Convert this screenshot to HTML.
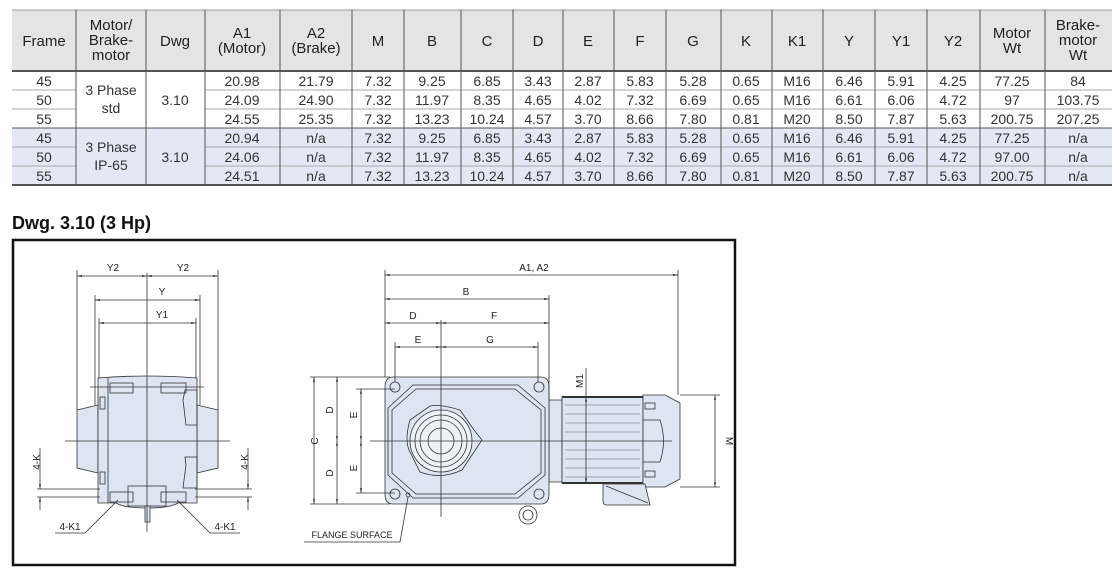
<!DOCTYPE html>
<html><head><meta charset="utf-8"><style>
body{margin:0;width:1120px;height:575px;background:#fff;font-family:"Liberation Sans",sans-serif;position:relative;overflow:hidden}
svg{position:absolute;left:0;top:0}
</style></head><body>
<svg width="1120" height="575" viewBox="0 0 1120 575" font-family="Liberation Sans, sans-serif">
<rect x="12" y="10" width="1100" height="61" fill="#e4e4e4"/>
<rect x="12" y="128" width="1100" height="57" fill="#e3e9f4"/>
<g stroke="#777" stroke-width="1">
<line x1="12" y1="10" x2="1112" y2="10" stroke="#999"/>
<line x1="12" y1="71" x2="1112" y2="71" stroke="#555" stroke-width="2"/>
<line x1="12" y1="185" x2="1112" y2="185" stroke="#555" stroke-width="2"/>
<line x1="12" y1="128" x2="1112" y2="128" stroke="#555"/>
<g stroke="#aaa">
<line x1="12" y1="90" x2="76" y2="90"/><line x1="205" y1="90" x2="1112" y2="90"/>
<line x1="12" y1="109" x2="76" y2="109"/><line x1="205" y1="109" x2="1112" y2="109"/>
<line x1="12" y1="147" x2="76" y2="147"/><line x1="205" y1="147" x2="1112" y2="147"/>
<line x1="12" y1="166" x2="76" y2="166"/><line x1="205" y1="166" x2="1112" y2="166"/>
</g>
<g stroke="#555">
<line x1="76" y1="10" x2="76" y2="185"/><line x1="146" y1="10" x2="146" y2="185"/><line x1="205" y1="10" x2="205" y2="185"/>
<line x1="280" y1="10" x2="280" y2="185"/><line x1="352" y1="10" x2="352" y2="185"/><line x1="404" y1="10" x2="404" y2="185"/>
<line x1="461" y1="10" x2="461" y2="185"/><line x1="513" y1="10" x2="513" y2="185"/><line x1="563" y1="10" x2="563" y2="185"/>
<line x1="614" y1="10" x2="614" y2="185"/><line x1="666" y1="10" x2="666" y2="185"/><line x1="721" y1="10" x2="721" y2="185"/>
<line x1="772" y1="10" x2="772" y2="185"/><line x1="823" y1="10" x2="823" y2="185"/><line x1="875" y1="10" x2="875" y2="185"/>
<line x1="927" y1="10" x2="927" y2="185"/><line x1="980" y1="10" x2="980" y2="185"/><line x1="1045" y1="10" x2="1045" y2="185"/>
</g></g>
<g font-size="15" fill="#222" text-anchor="middle">
<text x="44" y="46">Frame</text>
<text x="111" y="30">Motor/</text><text x="111" y="45">Brake-</text><text x="111" y="60">motor</text>
<text x="175" y="46">Dwg</text>
<text x="242" y="38">A1</text><text x="242" y="53">(Motor)</text>
<text x="316" y="38">A2</text><text x="316" y="53">(Brake)</text>
<text x="378" y="46">M</text><text x="432" y="46">B</text><text x="487" y="46">C</text><text x="538" y="46">D</text>
<text x="588" y="46">E</text><text x="640" y="46">F</text><text x="693" y="46">G</text><text x="746" y="46">K</text>
<text x="797" y="46">K1</text><text x="849" y="46">Y</text><text x="901" y="46">Y1</text><text x="953" y="46">Y2</text>
<text x="1012" y="38">Motor</text><text x="1012" y="53">Wt</text>
<text x="1078" y="30">Brake-</text><text x="1078" y="45">motor</text><text x="1078" y="60">Wt</text>
</g>
<g font-size="14" fill="#333" text-anchor="middle">
<text x="44" y="86">45</text><text x="44" y="105">50</text><text x="44" y="124">55</text>
<text x="44" y="143">45</text><text x="44" y="162">50</text><text x="44" y="181">55</text>
<text x="111" y="95">3 Phase</text><text x="111" y="113">std</text>
<text x="111" y="152">3 Phase</text><text x="111" y="170">IP-65</text>
<text x="175" y="105">3.10</text><text x="175" y="162">3.10</text>
</g>
<g font-size="14" fill="#333" text-anchor="middle">
<g transform="translate(0,86)"><text x="242">20.98</text><text x="316">21.79</text><text x="378">7.32</text><text x="432">9.25</text><text x="487">6.85</text><text x="538">3.43</text><text x="588">2.87</text><text x="640">5.83</text><text x="693">5.28</text><text x="746">0.65</text><text x="797">M16</text><text x="849">6.46</text><text x="901">5.91</text><text x="953">4.25</text><text x="1012">77.25</text><text x="1078">84</text></g>
<g transform="translate(0,105)"><text x="242">24.09</text><text x="316">24.90</text><text x="378">7.32</text><text x="432">11.97</text><text x="487">8.35</text><text x="538">4.65</text><text x="588">4.02</text><text x="640">7.32</text><text x="693">6.69</text><text x="746">0.65</text><text x="797">M16</text><text x="849">6.61</text><text x="901">6.06</text><text x="953">4.72</text><text x="1012">97</text><text x="1078">103.75</text></g>
<g transform="translate(0,124)"><text x="242">24.55</text><text x="316">25.35</text><text x="378">7.32</text><text x="432">13.23</text><text x="487">10.24</text><text x="538">4.57</text><text x="588">3.70</text><text x="640">8.66</text><text x="693">7.80</text><text x="746">0.81</text><text x="797">M20</text><text x="849">8.50</text><text x="901">7.87</text><text x="953">5.63</text><text x="1012">200.75</text><text x="1078">207.25</text></g>
<g transform="translate(0,143)"><text x="242">20.94</text><text x="316">n/a</text><text x="378">7.32</text><text x="432">9.25</text><text x="487">6.85</text><text x="538">3.43</text><text x="588">2.87</text><text x="640">5.83</text><text x="693">5.28</text><text x="746">0.65</text><text x="797">M16</text><text x="849">6.46</text><text x="901">5.91</text><text x="953">4.25</text><text x="1012">77.25</text><text x="1078">n/a</text></g>
<g transform="translate(0,162)"><text x="242">24.06</text><text x="316">n/a</text><text x="378">7.32</text><text x="432">11.97</text><text x="487">8.35</text><text x="538">4.65</text><text x="588">4.02</text><text x="640">7.32</text><text x="693">6.69</text><text x="746">0.65</text><text x="797">M16</text><text x="849">6.61</text><text x="901">6.06</text><text x="953">4.72</text><text x="1012">97.00</text><text x="1078">n/a</text></g>
<g transform="translate(0,181)"><text x="242">24.51</text><text x="316">n/a</text><text x="378">7.32</text><text x="432">13.23</text><text x="487">10.24</text><text x="538">4.57</text><text x="588">3.70</text><text x="640">8.66</text><text x="693">7.80</text><text x="746">0.81</text><text x="797">M20</text><text x="849">8.50</text><text x="901">7.87</text><text x="953">5.63</text><text x="1012">200.75</text><text x="1078">n/a</text></g>
</g>
<text x="12" y="229" font-size="18" font-weight="bold" fill="#111">Dwg. 3.10 (3 Hp)</text>
<rect x="13" y="240" width="722" height="325" fill="none" stroke="#111" stroke-width="2.5"/>

<defs><marker id="a" viewBox="0 0 10 10" refX="10" refY="5" markerWidth="6" markerHeight="6" orient="auto-start-reverse"><path d="M0,3 L10,5 L0,7z" fill="#222"/></marker></defs>

<g stroke="#333" stroke-width="0.8" fill="none">
<path d="M77,410 L98,405 L98,473 L77,468z M218,410 L197,405 L197,473 L218,468z" fill="#dde5f2"/>
<path d="M98,378 Q147,374 197,378 L197,503 L178,503 Q170,508 147,508 Q124,508 116,503 L98,503z" fill="#dde5f2"/>
<line x1="108" y1="378" x2="108" y2="503"/>
<path d="M185,390 L197,390 L197,425 L186,425 L183,400z M185,457 L197,457 L197,488 L183,488 L186,465z"/>
<rect x="100" y="397" width="5" height="12"/><rect x="100" y="472" width="5" height="12"/>
<rect x="110" y="383" width="23" height="10"/><rect x="161" y="383" width="25" height="10"/>
<rect x="110" y="492" width="23" height="10"/><rect x="161" y="492" width="25" height="10"/>
<rect x="128" y="486" width="38" height="20"/>
<rect x="145" y="506" width="5" height="16" fill="#dde5f2"/>
<line x1="147" y1="273" x2="147" y2="532"/>
<line x1="65" y1="441" x2="230" y2="441"/>
<line x1="90" y1="387" x2="204" y2="387"/>
<line x1="77" y1="270" x2="77" y2="410"/><line x1="218" y1="270" x2="218" y2="410"/>
<line x1="95" y1="295" x2="95" y2="405"/><line x1="200" y1="295" x2="200" y2="405"/>
<line x1="99" y1="318" x2="99" y2="378"/><line x1="196" y1="318" x2="196" y2="378"/>
<line x1="77" y1="276" x2="147" y2="276" marker-start="url(#a)" marker-end="url(#a)"/>
<line x1="147" y1="276" x2="218" y2="276" marker-start="url(#a)" marker-end="url(#a)"/>
<line x1="95" y1="300" x2="200" y2="300" marker-start="url(#a)" marker-end="url(#a)"/>
<line x1="99" y1="323" x2="196" y2="323" marker-start="url(#a)" marker-end="url(#a)"/>
<line x1="37" y1="489" x2="100" y2="489"/><line x1="37" y1="497" x2="100" y2="497"/>
<line x1="195" y1="489" x2="252" y2="489"/><line x1="195" y1="497" x2="252" y2="497"/>
<line x1="40" y1="448" x2="40" y2="489" marker-end="url(#a)"/><line x1="40" y1="510" x2="40" y2="497" marker-end="url(#a)"/>
<line x1="248" y1="448" x2="248" y2="489" marker-end="url(#a)"/><line x1="248" y1="510" x2="248" y2="497" marker-end="url(#a)"/>
<polyline points="55,533 85,533 118,500"/><polyline points="240,533 210,533 177,500"/>
</g>
<g font-size="10" fill="#222" text-anchor="middle">
<text x="113" y="271">Y2</text><text x="183" y="271">Y2</text><text x="162" y="295">Y</text><text x="162" y="318">Y1</text>
<text x="70" y="530">4-K1</text><text x="225" y="530">4-K1</text>
<text transform="translate(40,462) rotate(-90)">4-K</text>
<text transform="translate(248,462) rotate(-90)">4-K</text>
</g>

<g stroke="#333" stroke-width="0.8" fill="none">
<path d="M549,400 L562,400 L562,482 L549,482z" fill="#dde5f2"/>
<path d="M393,377 L541,377 Q549,377 549,387 L549,494 Q549,504 541,504 L393,504 Q385,504 385,494 L385,387 Q385,377 393,377z" fill="#dde5f2"/>
<path d="M413,385 L518,385 L545,408 L545,475 L518,498 L413,498 L388,475 L388,408z"/>
<path d="M416,389 L515,389 L541,410 L541,473 L515,494 L416,494 L392,473 L392,410z"/>
<path d="M430,406 Q441,404 460,410 L474,430 L482,440 L474,452 L462,470 Q441,480 420,472 L410,452 Q404,441 410,420z"/>
<circle cx="441" cy="441" r="31" fill="#eef2f8"/><circle cx="441" cy="441" r="26"/><circle cx="441" cy="441" r="21"/><circle cx="441" cy="441" r="13"/>
<circle cx="395" cy="387" r="5"/><circle cx="539" cy="387" r="5"/><circle cx="395" cy="494" r="5"/><circle cx="539" cy="494" r="5"/>
<circle cx="528" cy="515" r="9"/><circle cx="528" cy="515" r="5"/>
<rect x="562" y="397" width="81" height="86" fill="#dde5f2"/>
<g stroke="#666" stroke-width="0.6"><line x1="565" y1="405" x2="640" y2="405"/><line x1="565" y1="414" x2="640" y2="414"/><line x1="565" y1="423" x2="640" y2="423"/><line x1="565" y1="432" x2="640" y2="432"/><line x1="565" y1="450" x2="640" y2="450"/><line x1="565" y1="459" x2="640" y2="459"/><line x1="565" y1="468" x2="640" y2="468"/><line x1="565" y1="477" x2="640" y2="477"/></g>
<line x1="562" y1="397" x2="643" y2="397" stroke-width="2"/><line x1="562" y1="483" x2="643" y2="483" stroke-width="2"/>
<path d="M643,395 L665,395 L680,403 L680,479 L665,487 L643,487z" fill="#dde5f2"/>
<path d="M643,420 L660,420 Q667,441 660,462 L643,462"/>
<rect x="645" y="403" width="10" height="6"/><rect x="645" y="471" width="10" height="6"/>
<path d="M603,484 L645,484 L650,505 L606,505 Q603,505 603,500z" fill="#dde5f2"/>
<line x1="606" y1="486" x2="648" y2="503"/>
<line x1="441" y1="320" x2="441" y2="517"/>
<line x1="370" y1="441" x2="672" y2="441"/>
<line x1="385" y1="270" x2="385" y2="377"/><line x1="678" y1="270" x2="678" y2="395"/><line x1="549" y1="295" x2="549" y2="400"/>
<line x1="395" y1="342" x2="395" y2="382"/><line x1="538" y1="342" x2="538" y2="382"/>
<line x1="385" y1="275" x2="678" y2="275" marker-start="url(#a)" marker-end="url(#a)"/>
<line x1="385" y1="299" x2="549" y2="299" marker-start="url(#a)" marker-end="url(#a)"/>
<line x1="385" y1="323" x2="441" y2="323" marker-start="url(#a)" marker-end="url(#a)"/>
<line x1="441" y1="323" x2="549" y2="323" marker-start="url(#a)" marker-end="url(#a)"/>
<line x1="395" y1="347" x2="441" y2="347" marker-start="url(#a)" marker-end="url(#a)"/>
<line x1="441" y1="347" x2="538" y2="347" marker-start="url(#a)" marker-end="url(#a)"/>
<line x1="310" y1="377" x2="390" y2="377"/><line x1="310" y1="504" x2="390" y2="504"/>
<line x1="356" y1="389" x2="395" y2="389"/><line x1="356" y1="493" x2="395" y2="493"/>
<line x1="314" y1="377" x2="314" y2="504" marker-start="url(#a)" marker-end="url(#a)"/>
<line x1="337" y1="377" x2="337" y2="441" marker-start="url(#a)" marker-end="url(#a)"/>
<line x1="337" y1="441" x2="337" y2="504" marker-start="url(#a)" marker-end="url(#a)"/>
<line x1="361" y1="389" x2="361" y2="441" marker-start="url(#a)" marker-end="url(#a)"/>
<line x1="361" y1="441" x2="361" y2="493" marker-start="url(#a)" marker-end="url(#a)"/>
<line x1="586" y1="368" x2="586" y2="397" /><line x1="586" y1="397" x2="586" y2="483" marker-start="url(#a)" marker-end="url(#a)"/>
<line x1="680" y1="395" x2="720" y2="395"/><line x1="680" y1="487" x2="720" y2="487"/>
<line x1="715" y1="395" x2="715" y2="487" marker-start="url(#a)" marker-end="url(#a)"/>
<polyline points="304,542 400,542 408,497"/>
<circle cx="408" cy="495" r="2"/>
</g>
<g font-size="10" fill="#222" text-anchor="middle">
<text x="534" y="271">A1, A2</text><text x="466" y="295">B</text><text x="413" y="319">D</text><text x="494" y="319">F</text>
<text x="418" y="343">E</text><text x="490" y="343">G</text>
<text transform="translate(318,441) rotate(-90)">C</text>
<text transform="translate(333,410) rotate(-90)">D</text><text transform="translate(333,473) rotate(-90)">D</text>
<text transform="translate(357,415) rotate(-90)">E</text><text transform="translate(357,468) rotate(-90)">E</text>
<text transform="translate(583,381) rotate(-90)">M1</text>
<text transform="translate(726,441) rotate(90)">M</text>
<text x="352" y="538" font-size="9">FLANGE SURFACE</text>
</g>
</svg>
</body></html>
